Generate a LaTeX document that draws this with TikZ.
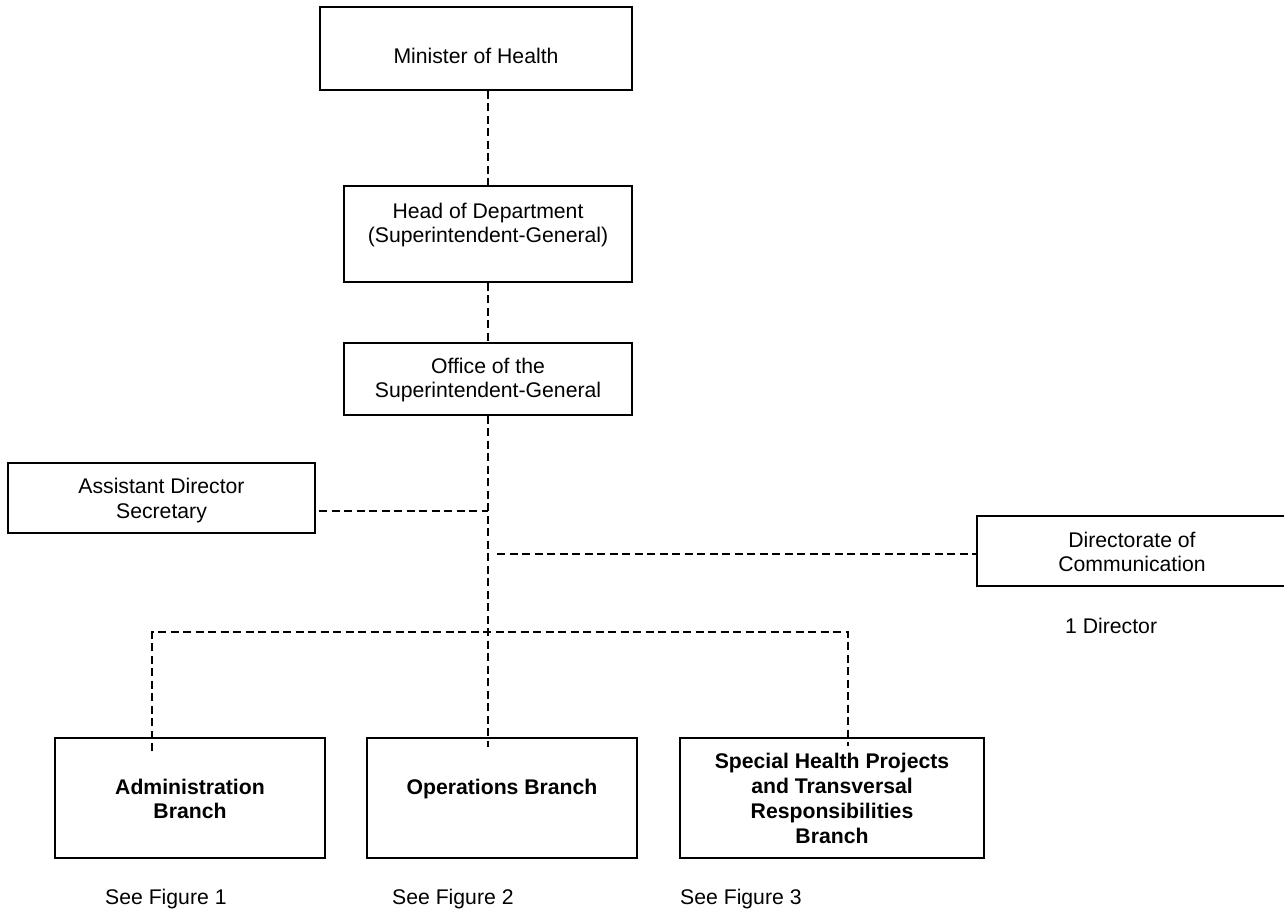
\documentclass[tikz,border=0pt]{standalone}
\usepackage{fontspec}
\setmainfont{Liberation Sans}
\begin{document}
\begin{tikzpicture}[x=1pt,y=-1pt,
  box/.style={draw, line width=1.5pt, rectangle, inner sep=0pt},
  lbl/.style={anchor=base, inner sep=0pt, font=\fontsize{21.2}{24.5}\selectfont},
  lblw/.style={lbl, anchor=base west},
  blbl/.style={lbl, font=\fontsize{21.2}{24.5}\selectfont\bfseries},
  conn/.style={line width=1.3pt, dash pattern=on 8pt off 4.5pt}]
\fill[white] (0,0) rectangle (1284,910);
\useasboundingbox (0,0) rectangle (1284,910);

% boxes
\node[box, minimum width=312pt, minimum height=83pt] (min) at (476,48.5) {};
\node[box, minimum width=288pt, minimum height=96pt] (hod) at (488,234) {};
\node[box, minimum width=288pt, minimum height=72pt] (osg) at (488,379) {};
\node[box, minimum width=307pt, minimum height=70pt] (ads) at (161.5,498) {};
\node[box, minimum width=313pt, minimum height=70pt] (doc) at (1133.5,551) {};
\node[box, minimum width=270pt, minimum height=120pt] (adm) at (190,798) {};
\node[box, minimum width=270pt, minimum height=120pt] (ops) at (502,798) {};
\node[box, minimum width=304pt, minimum height=120pt] (shp) at (832,798) {};

% connector points
\coordinate (j1) at (488,511);
\coordinate (j2) at (497,554);
\coordinate (j3) at (488,632);
\coordinate (opsin) at (488,747);
\coordinate (admin) at (152,751);
\coordinate (shpin) at (848,746);
\coordinate (adsr) at (319,511);

% connectors
\draw[conn] (min.south -| hod.north) -- (hod.north);
\draw[conn] (hod.south) -- (osg.north);
\draw[conn] (osg.south) -- (opsin);
\draw[conn] (adsr) -- (j1);
\draw[conn] (j2) -- (j2 -| doc.west);
\draw[conn] (admin) -- (admin |- j3) -- (shpin |- j3) -- (shpin);

% texts
\node[lbl] (tmin) at (476,63) {Minister of Health};
\node[lbl] (thod1) at (488,218) {Head of Department};
\node[lbl] (thod2) at (488,242) {(Superintendent-General)};
\node[lbl] (tosg1) at (488,373) {Office of the};
\node[lbl] (tosg2) at (488,397) {Superintendent-General};
\node[lbl] (tads1) at (161.5,493) {Assistant Director};
\node[lbl] (tads2) at (161.5,518) {Secretary};
\node[lbl] (tdoc1) at (1132,547) {Directorate of};
\node[lbl] (tdoc2) at (1132,571) {Communication};
\node[lblw] (tdir) at (1065,633) {1 Director};
\node[blbl] (tadm1) at (190,794) {Administration};
\node[blbl] (tadm2) at (190,818) {Branch};
\node[blbl] (tops) at (502,794) {Operations Branch};
\node[blbl] (tshp1) at (832,768) {Special Health Projects};
\node[blbl] (tshp2) at (832,793) {and Transversal};
\node[blbl] (tshp3) at (832,818) {Responsibilities};
\node[blbl] (tshp4) at (832,843) {Branch};
\node[lblw] (tsf1) at (105,904) {See Figure 1};
\node[lblw] (tsf2) at (392,904) {See Figure 2};
\node[lblw] (tsf3) at (680,904) {See Figure 3};
\end{tikzpicture}
\end{document}
